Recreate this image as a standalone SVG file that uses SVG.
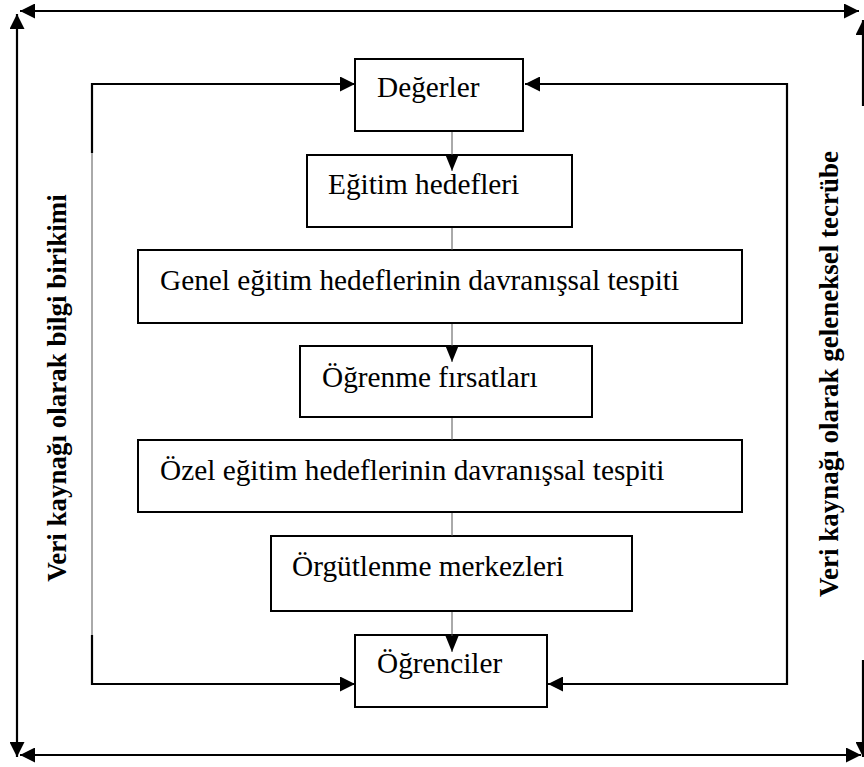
<svg xmlns="http://www.w3.org/2000/svg" width="864" height="767" viewBox="0 0 864 767">
  <style>
    .box { fill: #ffffff; stroke: #000000; stroke-width: 2; }
    .label { font-family: "Liberation Serif", "DejaVu Serif", serif; font-size: 29.3px; font-weight: normal; fill: #000000; }
    .side { font-family: "Liberation Serif", "DejaVu Serif", serif; font-size: 27px; font-weight: bold; fill: #000000; text-anchor: middle; }
    .frame { fill: none; stroke: #000000; stroke-width: 2.2; }
    .thin { fill: none; stroke: #555555; stroke-width: 1; }
  </style>
  <defs>
    <marker id="arrow" markerUnits="userSpaceOnUse" markerWidth="15" markerHeight="15" refX="15" refY="7.5" orient="auto-start-reverse">
      <path d="M0,0 L15,7.5 L0,15 Z" fill="#000000"/>
    </marker>
    <marker id="arrowSmall" markerUnits="userSpaceOnUse" markerWidth="16" markerHeight="14" refX="16" refY="7" orient="auto">
      <path d="M0,0.5 L16,7 L0,13.5 Z" fill="#000000"/>
    </marker>
  </defs>

  <g id="degerler">
    <rect class="box" x="355" y="59" width="168" height="72"/>
    <text class="label" x="377" y="97">Değerler</text>
  </g>
  <g id="egitim-hedefleri">
    <rect class="box" x="307" y="155" width="265" height="72"/>
    <text class="label" x="328" y="194">Eğitim hedefleri</text>
  </g>
  <g id="genel-hedefler">
    <rect class="box" x="138" y="250" width="604" height="73"/>
    <text class="label" x="160" y="290">Genel eğitim hedeflerinin davranışsal tespiti</text>
  </g>
  <g id="ogrenme-firsatlari">
    <rect class="box" x="300" y="346" width="292" height="71"/>
    <text class="label" x="322" y="387">Öğrenme fırsatları</text>
  </g>
  <g id="ozel-hedefler">
    <rect class="box" x="138" y="440" width="604" height="72"/>
    <text class="label" x="160" y="480">Özel eğitim hedeflerinin davranışsal tespiti</text>
  </g>
  <g id="orgutlenme-merkezleri">
    <rect class="box" x="271" y="536" width="361" height="75"/>
    <text class="label" x="292" y="576">Örgütlenme merkezleri</text>
  </g>
  <g id="ogrenciler">
    <rect class="box" x="355" y="635" width="192" height="72"/>
    <text class="label" x="377" y="673">Öğrenciler</text>
  </g>

  <!-- outer frame: four double-ended arrows -->
  <g id="connectors">
    <line class="frame" x1="20" y1="11" x2="859" y2="11" marker-start="url(#arrow)" marker-end="url(#arrow)"/>
    <line class="frame" x1="20" y1="755" x2="861" y2="755" marker-start="url(#arrow)" marker-end="url(#arrow)"/>
    <line class="frame" x1="17" y1="14" x2="17" y2="757" marker-start="url(#arrow)" marker-end="url(#arrow)"/>
    <line class="frame" x1="863" y1="20" x2="863" y2="106" marker-start="url(#arrow)"/>
    <line class="frame" x1="863" y1="660" x2="863" y2="757" marker-end="url(#arrow)"/>

    <!-- inner loop, left side -->
    <path class="frame" d="M92,153 V84 H355" marker-end="url(#arrow)"/>
    <line class="thin" x1="92" y1="153" x2="92" y2="635"/>
    <path class="frame" d="M92,635 V684 H355" marker-end="url(#arrow)"/>

    <!-- inner loop, right side -->
    <path class="frame" d="M787,380 V84 H525" marker-end="url(#arrow)"/>
    <path class="frame" d="M787,380 V684 H548" marker-end="url(#arrow)"/>

    <!-- central spine, box to box -->
    <line class="thin" x1="452" y1="132" x2="452" y2="171" marker-end="url(#arrowSmall)"/>
    <line class="thin" x1="452" y1="228" x2="452" y2="250"/>
    <line class="thin" x1="452" y1="324" x2="452" y2="362" marker-end="url(#arrowSmall)"/>
    <line class="thin" x1="452" y1="418" x2="452" y2="440"/>
    <line class="thin" x1="452" y1="513" x2="452" y2="536"/>
    <line class="thin" x1="452" y1="612" x2="452" y2="652" marker-end="url(#arrowSmall)"/>
  </g>

  <g id="side-labels">
    <text class="side" transform="translate(66,388) rotate(-90)">Veri kaynağı olarak bilgi birikimi</text>
    <text class="side" transform="translate(838,374) rotate(-90)">Veri kaynağı olarak geleneksel tecrübe</text>
  </g>
</svg>
